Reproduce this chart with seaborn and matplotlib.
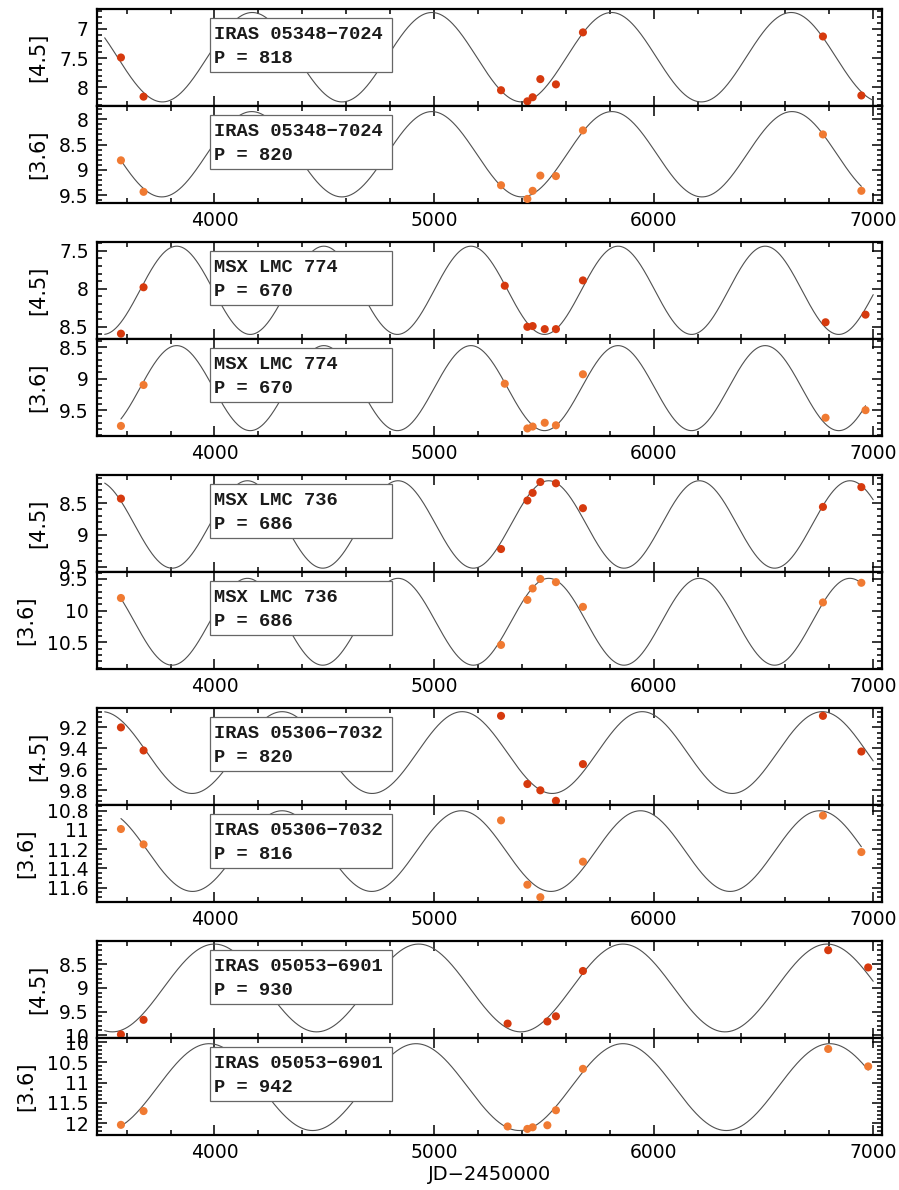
import numpy as np
import pandas as pd
import matplotlib
matplotlib.use("Agg")
import matplotlib.pyplot as plt
from matplotlib.ticker import MultipleLocator, AutoMinorLocator, FuncFormatter
from matplotlib.patches import Rectangle
import seaborn as sns

# ---------------- data ----------------
star_names = ["IRAS 05348\u22127024", "MSX LMC 774", "MSX LMC 736",
              "IRAS 05306\u22127032", "IRAS 05053\u22126901"]
periods_45 = [818, 670, 686, 820, 930]
periods_36 = [820, 670, 686, 816, 942]

jd_s1_45 = [3574, 3677, 5305, 5425, 5449, 5484, 5555, 5678, 6771, 6946]
mag_s1_45 = [7.49, 8.16, 8.05, 8.24, 8.17, 7.86, 7.95, 7.06, 7.13, 8.14]
jd_s1_36 = [3574, 3677, 5305, 5425, 5449, 5484, 5555, 5678, 6771, 6946]
mag_s1_36 = [8.81, 9.43, 9.30, 9.57, 9.41, 9.11, 9.12, 8.22, 8.30, 9.41]

jd_s2_45 = [3574, 3677, 5322, 5425, 5449, 5504, 5555, 5678, 6783, 6965]
mag_s2_45 = [8.59, 7.98, 7.96, 8.50, 8.49, 8.53, 8.53, 7.89, 8.44, 8.34]
jd_s2_36 = [3574, 3677, 5322, 5425, 5449, 5504, 5555, 5678, 6783, 6965]
mag_s2_36 = [9.75, 9.10, 9.08, 9.79, 9.76, 9.70, 9.74, 8.93, 9.62, 9.50]

jd_s3_45 = [3574, 5305, 5425, 5449, 5484, 5555, 5678, 6771, 6946]
mag_s3_45 = [8.43, 9.22, 8.46, 8.34, 8.17, 8.19, 8.58, 8.56, 8.25]
jd_s3_36 = [3574, 5305, 5425, 5449, 5484, 5555, 5678, 6771, 6946]
mag_s3_36 = [9.80, 10.54, 9.83, 9.65, 9.50, 9.55, 9.94, 9.87, 9.56]

jd_s4_45 = [3574, 3677, 5305, 5425, 5484, 5555, 5678, 6771, 6946]
mag_s4_45 = [9.20, 9.42, 9.09, 9.74, 9.80, 9.90, 9.55, 9.09, 9.43]
jd_s4_36 = [3574, 3677, 5305, 5425, 5484, 5678, 6771, 6946]
mag_s4_36 = [10.99, 11.15, 10.90, 11.57, 11.70, 11.33, 10.85, 11.23]

jd_s5_45 = [3574, 3677, 5335, 5516, 5555, 5678, 6795, 6977]
mag_s5_45 = [9.985, 9.675, 9.755, 9.71, 9.60, 8.64, 8.20, 8.565]
jd_s5_36 = [3574, 3677, 5335, 5425, 5449, 5516, 5555, 5678, 6795, 6977]
mag_s5_36 = [12.04, 11.70, 12.08, 12.14, 12.10, 12.05, 11.68, 10.66, 10.17, 10.60]

# sinusoid fit parameters (mean mag, semi-amplitude, epoch of maximum light)
fit_mean_45 = [7.485, 8.02, 8.835, 9.44, 9.00]
fit_amp_45 = [0.765, 0.58, 0.685, 0.39, 0.93]
fit_tmax_45 = [4990, 5168, 5522, 5128, 5860]
fit_mean_36 = [8.69, 9.15, 10.175, 11.22, 11.11]
fit_amp_36 = [0.84, 0.675, 0.685, 0.42, 1.07]
fit_tmax_36 = [4990, 5168, 5522, 5124, 5860]

# axis ranges (magnitudes, faint end first) and tick steps
ylim_45 = [(8.32, 6.66), (8.66, 7.385), (9.58, 8.06), (9.94, 9.015), (10.06, 8.005)]
ylim_36 = [(9.65, 7.74), (9.91, 8.37), (10.92, 9.39), (11.75, 10.74), (12.29, 9.90)]
ystep_45 = [0.5, 0.5, 0.5, 0.2, 0.5]
ystep_36 = [0.5, 0.5, 0.5, 0.2, 0.5]
xlim = (3465, 7040)
curve_span_45 = (3500, 7000)

jd_45 = [jd_s1_45, jd_s2_45, jd_s3_45, jd_s4_45, jd_s5_45]
mag_45 = [mag_s1_45, mag_s2_45, mag_s3_45, mag_s4_45, mag_s5_45]
jd_36 = [jd_s1_36, jd_s2_36, jd_s3_36, jd_s4_36, jd_s5_36]
mag_36 = [mag_s1_36, mag_s2_36, mag_s3_36, mag_s4_36, mag_s5_36]

# ---------------- style ----------------
sns.set_style("ticks")
plt.rcParams["font.family"] = ["DejaVu Sans"]
plt.rcParams["axes.linewidth"] = 1.5
for key in ["text.color", "axes.labelcolor", "xtick.color", "ytick.color",
            "axes.edgecolor"]:
    plt.rcParams[key] = "black"

col_45 = "#D63A0E"
col_36 = "#F07A32"
curve_col = "#505050"

W_PX, H_PX = 899, 1190
fig = plt.figure(figsize=(W_PX / 100, H_PX / 100), dpi=100)
left = 97 / W_PX
width = 785 / W_PX
ph = 97

fmt = FuncFormatter(lambda v, p: "%g" % round(v, 4))


def style_axis(ax, ystep, show_x):
    ax.set_xlim(*xlim)
    ax.xaxis.set_major_locator(MultipleLocator(1000))
    ax.xaxis.set_minor_locator(AutoMinorLocator(5))
    ax.yaxis.set_major_locator(MultipleLocator(ystep))
    ax.yaxis.set_minor_locator(AutoMinorLocator(5 if ystep == 0.5 else 4))
    ax.yaxis.set_major_formatter(fmt)
    ax.tick_params(which="both", direction="in", top=True, right=True,
                   bottom=True, left=True, width=1.1, color="black",
                   labelcolor="black")
    ax.tick_params(which="major", length=7.5, labelsize=13.5, pad=6)
    ax.tick_params(which="minor", length=3.8)
    if not show_x:
        ax.tick_params(labelbottom=False)
    for s in ax.spines.values():
        s.set_linewidth(1.6)
        s.set_color("black")


def draw_panel(ax, jd, mag, mean, amp, tmax, period, span, color, label, name):
    t = np.linspace(span[0], span[1], 1200)
    model = mean - amp * np.cos(2 * np.pi * (t - tmax) / period)
    sns.lineplot(x=t, y=model, ax=ax, color=curve_col, lw=0.8,
                 estimator=None, sort=False, zorder=2)
    sns.scatterplot(x=jd, y=mag, ax=ax, color=color, s=34,
                    edgecolor="none", linewidth=0, zorder=3)
    ax.add_patch(Rectangle((0.144, 0.35), 0.232, 0.557, transform=ax.transAxes,
                           facecolor="white", edgecolor="#666666", lw=0.9,
                           zorder=4))
    ax.text(0.1494, 0.735, name, transform=ax.transAxes, va="center",
            ha="left", fontsize=13.5, fontweight="bold", color="#1a1a1a",
            family=["Liberation Mono", "DejaVu Sans Mono"], zorder=5)
    ax.text(0.1494, 0.49, "P = %d" % period, transform=ax.transAxes,
            va="center", ha="left", fontsize=13.5, fontweight="bold",
            color="#1a1a1a",
            family=["Liberation Mono", "DejaVu Sans Mono"], zorder=5)
    ax.set_ylabel(label, fontsize=15, labelpad=8, color="black")
    ax.set_xlabel("")


for i in range(5):
    top_px = 9 + i * 233
    ax1 = fig.add_axes([left, 1 - (top_px + ph) / H_PX, width, ph / H_PX])
    ax2 = fig.add_axes([left, 1 - (top_px + 2 * ph) / H_PX, width, ph / H_PX])

    draw_panel(ax1, jd_45[i], mag_45[i], fit_mean_45[i], fit_amp_45[i],
               fit_tmax_45[i], periods_45[i], curve_span_45, col_45,
               "[4.5]", star_names[i])
    span36 = (min(jd_36[i]), max(jd_36[i]))
    draw_panel(ax2, jd_36[i], mag_36[i], fit_mean_36[i], fit_amp_36[i],
               fit_tmax_36[i], periods_36[i], span36, col_36,
               "[3.6]", star_names[i])

    ax1.set_ylim(*ylim_45[i])
    ax2.set_ylim(*ylim_36[i])
    style_axis(ax1, ystep_45[i], False)
    style_axis(ax2, ystep_36[i], True)
    if i == 4:
        ax2.set_xlabel("JD\u22122450000", fontsize=14, labelpad=2,
                       color="black")

fig.savefig("out.png", dpi=100)
